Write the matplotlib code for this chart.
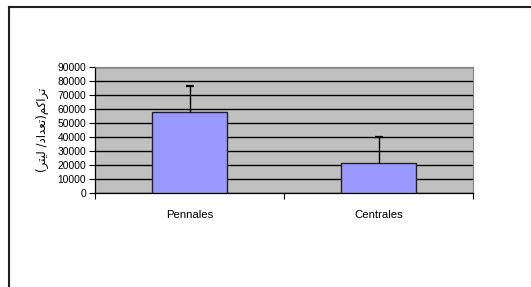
import matplotlib
matplotlib.use("Agg")
import matplotlib.pyplot as plt
from matplotlib.lines import Line2D

categories = ["Pennales", "Centrales"]
means = [58000, 21500]
upper_err = [18600, 18500]
yticks = [0, 10000, 20000, 30000, 40000, 50000, 60000, 70000, 80000, 90000]

# Persian label "تراکم(تعداد/ لیتر)" in visual order using presentation forms
ylabel = ("(" + "\uFEAE\uFE98\uFEF4\uFEDF" + " /" + "\uFEA9\uFE8D\uFEAA\uFECC\uFE97"
          + ")" + "\uFEE2\uFB90\uFE8D\uFEAE\uFE97")

plt.rcParams['font.family'] = ['Liberation Sans', 'DejaVu Sans']

fig = plt.figure(figsize=(5.31, 2.87), dpi=100)
ax = fig.add_axes([95/531, 1-193/287, 378/531, 126/287])
ax.set_facecolor("#C0C0C0")

x = list(range(len(categories)))
ax.bar(x, means, width=0.40, color="#9999FF", edgecolor="#222222", linewidth=1.0, zorder=3)
eb = ax.errorbar(x, means, yerr=[[0]*len(means), upper_err], fmt="none", ecolor="black",
                 elinewidth=1.0, capsize=2.6, capthick=1.6, zorder=4)
caps = eb[1]
if len(caps) >= 2:
    caps[0].set_visible(False)
    caps[1].set_color("#555555")

ax.set_xlim(-0.5, len(categories) - 0.5)
ax.set_ylim(0, 90000)
ax.set_yticks(yticks)
ax.set_yticklabels([str(v) for v in yticks], fontsize=7.4)
ax.yaxis.grid(True, color="black", linewidth=1.0, zorder=1)
ax.set_axisbelow(True)
ax.tick_params(axis="y", length=4, width=0.8, pad=2.5, colors="black")

ax.set_xticks(x)
ax.set_xticklabels(categories, fontsize=8.2)
ax.set_xticks([i - 0.5 for i in range(len(categories) + 1)], minor=True)
ax.tick_params(axis="x", which="major", length=0, pad=12)
ax.tick_params(axis="x", which="minor", length=4, width=0.8)

for s in ["top", "right"]:
    ax.spines[s].set_color("#808080")
    ax.spines[s].set_linewidth(0.8)
for s in ["left", "bottom"]:
    ax.spines[s].set_color("black")
    ax.spines[s].set_linewidth(0.9)

ax.set_ylabel(ylabel, fontsize=8.5, family=['DejaVu Sans'], labelpad=6)

# outer chart frame (clipped at right and bottom)
fig.add_artist(Line2D([9/531, 9/531], [0, 1-7/287], transform=fig.transFigure,
                      color="#202020", linewidth=1.5))
fig.add_artist(Line2D([9/531, 1], [1-7/287, 1-7/287], transform=fig.transFigure,
                      color="#202020", linewidth=1.5))

fig.savefig("out.png", dpi=100)
